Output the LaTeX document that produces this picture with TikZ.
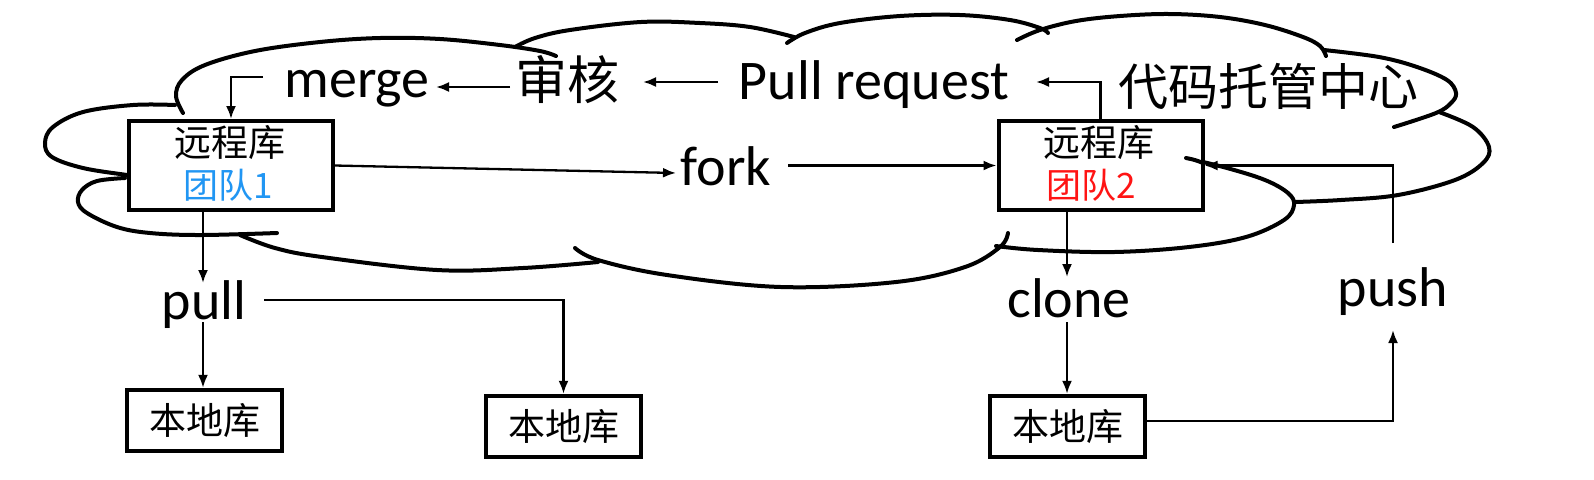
\documentclass[tikz,border=0pt]{standalone}
\usepackage{fontspec}
\setmainfont{Carlito}
\newfontfamily\cjk{Noto Sans CJK SC}
\usetikzlibrary{arrows.meta,calc}
\definecolor{teamblue}{RGB}{33,150,243}
\definecolor{teamred}{RGB}{255,20,20}
\begin{document}
\begin{tikzpicture}[x=0.5pt,y=-0.5pt,
  cloudline/.style={line width=2pt, line cap=round},
  rbox/.style={draw, line width=2pt, fill=white, minimum width=102pt, minimum height=44.5pt, inner sep=0},
  lbox/.style={draw, line width=2.2pt, fill=white, minimum width=77.5pt, minimum height=30.5pt, inner sep=0,
               font=\cjk\fontsize{18.5}{20}\selectfont},
  lbl/.style={font=\fontsize{28}{30}\selectfont, inner sep=0, anchor=base},
  big/.style={font=\cjk\fontsize{26}{28}\selectfont, inner sep=0},
  intext/.style={font=\cjk\fontsize{18.5}{20}\selectfont, inner sep=0},
  team/.style={font=\cjk\fontsize{17.5}{19}\selectfont, inner sep=0},
  arr/.style={line width=1.15pt, -{Latex[length=6.5pt,width=5pt]}}]
\useasboundingbox (0,0) rectangle (1594,479);

% ---------- cloud ----------
\draw[cloudline] plot[smooth,tension=0.6] coordinates {(183,113) (176,96) (182,80) (205,65) (255,51) (320,42) (380,38) (440,39) (500,45) (540,51) (556,56)};
\draw[cloudline] plot[smooth,tension=0.6] coordinates {(515,47) (535,38) (570,30) (641,22) (700,23) (750,27) (794,37)};
\draw[cloudline] plot[smooth,tension=0.6] coordinates {(787,43) (805,33) (840,23) (900,16) (960,15) (1010,20) (1040,28) (1048,33)};
\draw[cloudline] plot[smooth,tension=0.6] coordinates {(1017,40) (1040,30) (1076,21) (1120,16) (1170,14) (1220,17) (1265,25) (1303,37) (1320,46) (1326,56)};
\draw[cloudline] plot[smooth,tension=0.6] coordinates {(1324,50) (1379,57) (1417,67) (1447,80) (1456,93) (1451,103) (1436,113) (1394,127)};
\draw[cloudline] plot[smooth,tension=0.6] coordinates {(1439,112) (1473,127) (1489,147) (1483,163) (1455,180) (1398,195) (1341,200) (1295,202)};
\draw[cloudline] plot[smooth,tension=0.6] coordinates {(1186,158) (1227,168) (1265,180) (1288,193) (1294,205) (1284,220) (1246,237) (1189,247) (1114,252) (1038,250) (996,246)};
\draw[cloudline] plot[smooth,tension=0.6] coordinates {(575,248) (598,260) (667,275) (781,287) (896,282) (965,267) (1000,247) (1008,233)};
\draw[cloudline] plot[smooth,tension=0.6] coordinates {(240,235) (275,248) (322,257) (437,270) (523,268) (598,262)};
\draw[cloudline] plot[smooth,tension=0.6] coordinates {(125,178) (97,181) (82,190) (78,202) (87,213) (117,227) (150,233) (200,235) (277,233)};
\draw[cloudline] plot[smooth,tension=0.6] coordinates {(175,105) (133,105) (83,112) (53,127) (45,143) (52,157) (83,168) (127,175) (135,176)};

% ---------- boxes ----------
\node[rbox] (box1) at (231,165.5) {};
\node[intext] (b1top) at (230,143) {远程库};
\node[team, text=teamblue] (b1bot) at (228,185) {团队1};
\node[rbox] (box2) at (1100.5,165.5) {};
\node[intext] (b2top) at (1099,143) {远程库};
\node[team, text=teamred] (b2bot) at (1091,185) {团队2};
\draw[cloudline] (1186,158) to[bend left=6] (1203,163);

\node[lbox] (local1) at (204.5,420.5) {本地库};
\node[lbox] (local2) at (563.5,426.5) {本地库};
\node[lbox] (local3) at (1067.5,426.5) {本地库};

% ---------- labels ----------
\node[lbl] (merge) at (357,97) {merge};
\node[big] (shenhe) at (567,80) {审核};
\node[lbl] (pr) at (874,99) {Pull request};
\node[big, font=\cjk\fontsize{25}{27}\selectfont] (center) at (1268,86) {代码托管中心};
\node[lbl] (fork) at (726,185) {fork};
\node[lbl] (pull) at (204,319) {pull};
\node[lbl] (clone) at (1069,317) {clone};
\node[lbl] (push) at (1393,306) {push};

% ---------- connector end points ----------
\coordinate (mS) at (263,77);
\coordinate (shL) at (510,87);
\coordinate (mR) at (436,87);
\coordinate (prL) at (718,82);
\coordinate (shR) at (643,82);
\coordinate (prR) at (1036,82);
\coordinate (fkL) at (676,173);
\coordinate (fkR) at (788,165.5);
\coordinate (pullT) at (203,283);
\coordinate (pullB) at (203,322);
\coordinate (pullR) at (264,300);
\coordinate (cloneT) at (1067,277);
\coordinate (cloneB) at (1067,322);
\coordinate (pushB) at (1393,330);
\coordinate (pushT) at (1393,243);
\coordinate (l3R) at (1145,421);

% ---------- connectors ----------
\draw[arr] (mS) -| (box1.north);
\draw[arr] (shL) -- (mR);
\draw[arr] (prL) -- (shR);
\draw[arr] (box2.north) |- (prR);
\draw[arr] (box1.east) -- (fkL);
\draw[arr] (fkR) -- (box2.west);
\draw[arr] (box1.south -| pullT) -- (pullT);
\draw[arr] (pullB) -- (pullB |- local1.north);
\draw[arr] (pullR) -| (local2.north);
\draw[arr] (box2.south -| cloneT) -- (cloneT);
\draw[arr] (cloneB) -- (cloneB |- local3.north);
\draw[arr] (l3R) -| (pushB);
\draw[arr] (pushT) |- (box2.east);
\end{tikzpicture}
\end{document}
